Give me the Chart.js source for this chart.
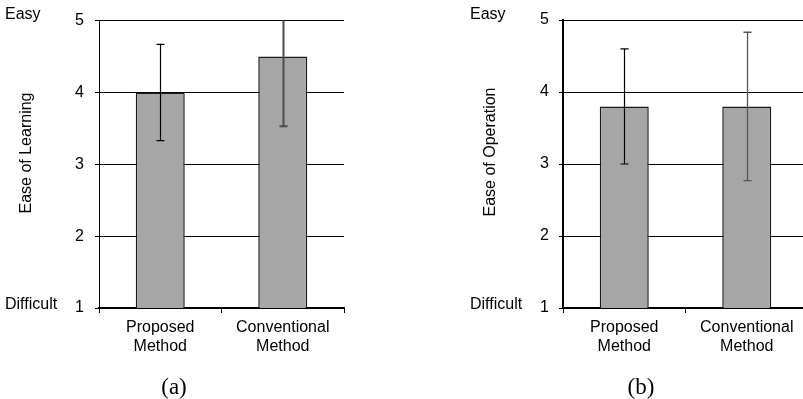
<!DOCTYPE html>
<html>
<head>
<meta charset="utf-8">
<script src="https://cdn.jsdelivr.net/npm/chart.js@4.4.1/dist/chart.umd.min.js"></script>
<style>
  html, body { margin:0; padding:0; background:#fff; overflow:hidden; }
  #wrap { position:relative; width:803px; height:399px; overflow:hidden; background:#fff; }
  .box { position:absolute; top:0; height:399px; }
  .lbl { position:absolute; font-family:'Liberation Sans', Arial, sans-serif; font-size:16px; line-height:16px; color:#000; white-space:nowrap; }
  .ytitle { position:absolute; font-family:'Liberation Sans', Arial, sans-serif; font-size:16px; line-height:16px; color:#000; white-space:nowrap; transform:translate(-50%,-50%) rotate(-90deg); }
  .cap { position:absolute; font-family:'Liberation Serif', 'Times New Roman', serif; font-size:23px; line-height:23px; color:#000; white-space:nowrap; transform:translate(-50%,-50%); }
</style>
</head>
<body>
<div id="wrap">
  <div class="box" style="left:0;width:360px;"><canvas id="ca" width="360" height="399"></canvas></div>
  <div class="box" style="left:400px;width:420px;"><canvas id="cb" width="420" height="399"></canvas></div>

  <div class="lbl" style="left:5px;top:6px;">Easy</div>
  <div class="lbl" style="left:5px;top:296px;">Difficult</div>
  <div class="ytitle" style="left:25.5px;top:152.5px;">Ease of Learning</div>
  <div class="cap" style="left:174px;top:386px;">(a)</div>

  <div class="lbl" style="left:470px;top:6px;">Easy</div>
  <div class="lbl" style="left:470px;top:296px;">Difficult</div>
  <div class="ytitle" style="left:490px;top:151.5px;">Ease of Operation</div>
  <div class="cap" style="left:641px;top:386px;">(b)</div>
</div>
<script>
// ---- data ----
const categories = [['Proposed', 'Method'], ['Conventional', 'Method']];
const learningMeans = [4.0, 4.5];
const learningErrors = [0.67, 0.97];
const operationMeans = [3.8, 3.8];
const operationErrors = [0.8, 1.03];
const yTicks = [1, 2, 3, 4, 5];

const FONT = "'Liberation Sans', Arial, sans-serif";

const errorBars = {
  id: 'errorBars',
  afterDatasetsDraw(chart, args, opts) {
    const { ctx, chartArea } = chart;
    const y = chart.scales.y;
    const meta = chart.getDatasetMeta(0);
    const values = chart.data.datasets[0].data;
    ctx.save();
    ctx.beginPath();
    ctx.rect(chartArea.left, chartArea.top, chartArea.right - chartArea.left, chartArea.bottom - chartArea.top);
    ctx.clip();
    meta.data.forEach((bar, i) => {
      const v = values[i], e = opts.errors[i];
      const yt = y.getPixelForValue(v + e);
      const yb = y.getPixelForValue(v - e);
      const x = Math.round(bar.x) + 0.5;
      ctx.strokeStyle = opts.colors[i];
      ctx.lineWidth = opts.widths[i];
      ctx.beginPath();
      ctx.moveTo(x, yt);
      ctx.lineTo(x, yb);
      ctx.moveTo(x - 4, yt);
      ctx.lineTo(x + 4, yt);
      ctx.moveTo(x - 4, yb);
      ctx.lineTo(x + 4, yb);
      ctx.stroke();
    });
    ctx.restore();
  }
};

function makeChart(id, means, errors, yWidth, tickPad, padRight, yBorderW, errColors, errWidths) {
  return new Chart(document.getElementById(id), {
    type: 'bar',
    data: {
      labels: categories,
      datasets: [{
        data: means,
        backgroundColor: '#a6a6a6',
        borderColor: '#1a1a1a',
        borderWidth: 1.5,
        barPercentage: 0.4,
        categoryPercentage: 1.0
      }]
    },
    options: {
      responsive: false,
      animation: false,
      layout: { padding: { top: 20, right: padRight, left: 0, bottom: 0 } },
      plugins: {
        legend: { display: false },
        tooltip: { enabled: false },
        errorBars: { errors: errors, colors: errColors, widths: errWidths }
      },
      scales: {
        x: {
          offset: true,
          grid: { display: true, drawOnChartArea: false, drawTicks: true, tickLength: 5, color: '#000', lineWidth: 1 },
          border: { display: true, color: '#000', width: 2 },
          ticks: { color: '#000', font: { family: FONT, size: 16 }, padding: 5, maxRotation: 0 },
          afterFit(scale) { scale.height = 91; }
        },
        y: {
          min: 1,
          max: 5,
          grid: { color: '#000', lineWidth: 1, tickLength: 4 },
          border: { display: true, color: '#000', width: yBorderW },
          ticks: { color: '#000', font: { family: FONT, size: 16 }, padding: tickPad, stepSize: 1 },
          afterBuildTicks(scale) { scale.ticks = yTicks.map(v => ({ value: v })); },
          afterFit(scale) { scale.width = yWidth; }
        }
      }
    },
    plugins: [errorBars]
  });
}

makeChart('ca', learningMeans, learningErrors, 99, 11, 16, 1, ['#000', '#4d4d4d'], [1.2, 2]);
makeChart('cb', operationMeans, operationErrors, 163, 10, 12, 2, ['#000', '#555'], [1.2, 1.3]);
</script>
</body>
</html>
